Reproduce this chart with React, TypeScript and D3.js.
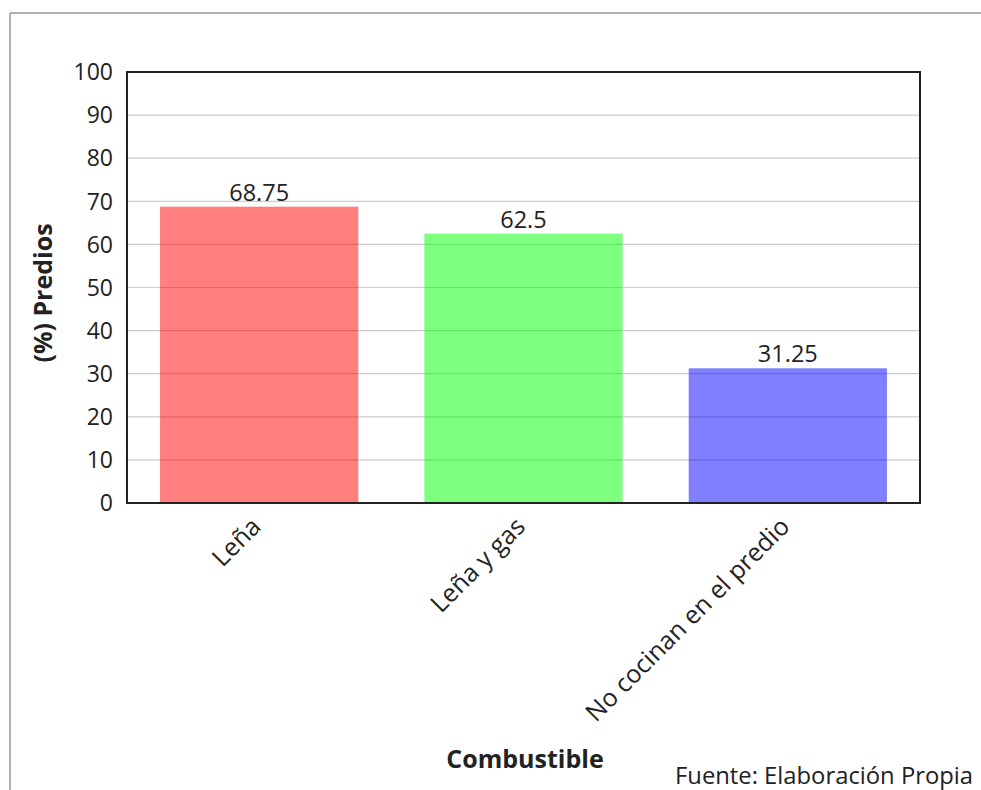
import React from "react";
import * as d3 from "d3";

const categories = ["Leña", "Leña y gas", "No cocinan en el predio"];
const values = [68.75, 62.5, 31.25];
const barColors = ["rgba(255,0,0,0.5)", "rgba(0,255,0,0.5)", "rgba(0,0,255,0.5)"];
const yTicks = [0, 10, 20, 30, 40, 50, 60, 70, 80, 90, 100];

const W = 981, H = 790;
const left = 127, right = 920, top = 72, bottom = 503;
const font = "'Open Sans', sans-serif";

export default function App() {
  const x = d3.scaleBand<string>().domain(categories).range([left, right]).paddingInner(0.25).paddingOuter(0.125);
  const y = d3.scaleLinear().domain([0, 100]).range([bottom, top]);
  return (
    <svg width={W} height={H} style={{ position: "absolute", left: 0, top: 0, background: "#fff" }} fontFamily={font}>
      <line x1={10} y1={13} x2={W} y2={13} stroke="#999" strokeWidth={1.5} />
      <line x1={10} y1={13} x2={10} y2={H} stroke="#999" strokeWidth={1.5} />
      {yTicks.map((t) => (
        <g key={t}>
          <line x1={left} x2={right} y1={y(t)} y2={y(t)} stroke="#ccc" strokeWidth={1.2} />
          <text x={113} y={y(t)} dy="0.36em" textAnchor="end" fontSize={23} fill="#222">{t}</text>
        </g>
      ))}
      {categories.map((c, i) => (
        <g key={c}>
          <rect x={x(c)} y={y(values[i])} width={x.bandwidth()} height={bottom - y(values[i])} fill={barColors[i]} />
          <text x={(x(c) as number) + x.bandwidth() / 2} y={y(values[i]) - 6} textAnchor="middle" fontSize={23.5} fill="#222">{values[i]}</text>
          <text
            transform={`translate(${(x(c) as number) + x.bandwidth() / 2 - 3},${bottom + 19}) rotate(-45)`}
            textAnchor="end" fontSize={25} fill="#222" dy="0.35em"
          >{c}</text>
        </g>
      ))}
      <rect x={left} y={top} width={right - left} height={bottom - top} fill="none" stroke="#222" strokeWidth={2} />
      <text transform={`translate(52,293) rotate(-90)`} textAnchor="middle" fontSize={25} fontWeight="bold" fill="#222">(%) Predios</text>
      <text x={525} y={768} textAnchor="middle" fontSize={25} fontWeight="bold" fill="#222">Combustible</text>
      <text x={675} y={784} fontSize={23.8} fill="#222">Fuente: Elaboración Propia</text>
    </svg>
  );
}
